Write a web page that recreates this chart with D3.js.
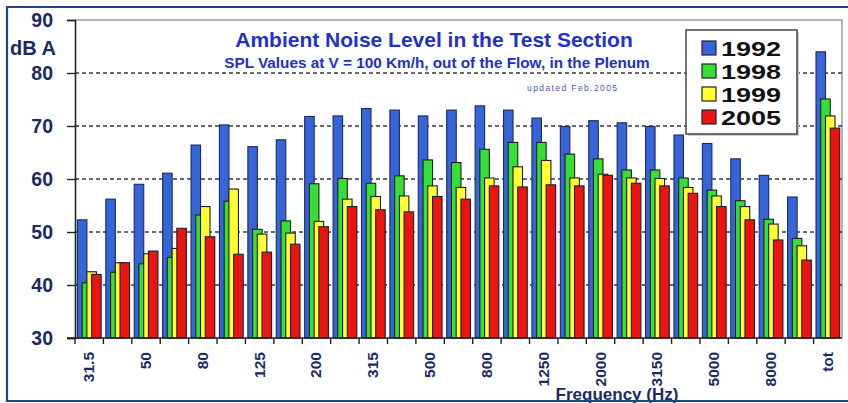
<!DOCTYPE html>
<html>
<head>
<meta charset="utf-8">
<script src="https://cdn.jsdelivr.net/npm/d3@7"></script>
<style>
  html, body { margin: 0; padding: 0; background: #ffffff; }
  svg { display: block; font-family: Arial, "Liberation Sans", sans-serif; }
</style>
</head>
<body>
<svg id="chart" width="848" height="403"></svg>
<script>
// Third-octave band centre frequencies (Hz) plus the overall level
const bands = ["31.5","40","50","63","80","100","125","160","200","250","315","400","500","630","800","1000","1250","1600","2000","2500","3150","4000","5000","6300","8000","10000","tot"];
const shownLabels = ["31.5","50","80","125","200","315","500","800","1250","2000","3150","5000","8000","tot"];
const years = ["1992","1998","1999","2005"];
const colors = ["#3565d8","#35e035","#ffff33","#ee1313"];
const yTicks = [30,40,50,60,70,80,90];

// SPL in dB(A) per band, one array per measurement campaign
const spl1992 = [52.3,56.2,59.0,61.1,66.4,70.2,66.1,67.4,71.8,71.9,73.3,73.0,71.9,73.0,73.8,73.0,71.5,69.9,71.0,70.6,69.9,68.3,66.7,63.8,60.7,56.6,84.0];
const spl1998 = [40.4,42.4,44.0,45.2,53.2,55.8,50.5,52.1,59.1,60.1,59.2,60.6,63.6,63.1,65.6,66.9,66.9,64.7,63.8,61.7,61.7,60.2,57.9,55.9,52.4,48.8,75.1];
const spl1999 = [42.5,44.2,45.9,46.9,54.8,58.1,49.6,49.8,52.0,56.2,56.7,56.8,58.7,58.4,60.2,62.3,63.5,60.2,60.9,60.2,60.1,58.4,56.8,54.8,51.5,47.4,71.9];
const spl2005 = [42.0,44.2,46.4,50.7,49.1,45.8,46.2,47.7,51.0,54.8,54.2,53.8,56.7,56.2,58.7,58.5,58.9,58.7,60.7,59.2,58.7,57.3,54.8,52.3,48.5,44.7,69.6];
const seriesValues = [spl1992, spl1998, spl1999, spl2005];

const svg = d3.select("#chart");
const navy = "#1b2a66";
const plot = { left: 75, right: 842, top: 20, bottom: 338 };

const x = d3.scaleBand().domain(bands).range([plot.left, plot.right]).paddingInner(0).paddingOuter(0);
const y = d3.scaleLinear().domain([30, 90]).range([plot.bottom, plot.top]);

// Overlapping bars inside each band: each series shifted a little to the right
const bw = x.bandwidth();
const barW = bw * 0.335;
const xs = d3.scalePoint().domain(years).range([bw * 0.085, bw * 0.085 + bw * 0.5]);

// Plot frame (grey top and right edges)
svg.append("path")
  .attr("d", `M${plot.left},${plot.top}H${plot.right}V${plot.bottom}`)
  .attr("fill", "none").attr("stroke", "#9a9a9a").attr("stroke-width", 1.5);

// Dashed horizontal grid lines
svg.append("g").selectAll("line")
  .data(yTicks.filter(t => t > 30 && t < 90))
  .join("line")
  .attr("x1", plot.left).attr("x2", plot.right)
  .attr("y1", d => y(d)).attr("y2", d => y(d))
  .attr("stroke", "#3a3a3a").attr("stroke-width", 1.4)
  .attr("stroke-dasharray", "4,3");

// Titles
svg.append("text").attr("x", 434).attr("y", 47).attr("text-anchor", "middle")
  .attr("font-size", 21).attr("font-weight", "bold").attr("fill", "#2430c8")
  .text("Ambient Noise Level in the Test Section");
svg.append("text").attr("x", 437).attr("y", 68).attr("text-anchor", "middle")
  .attr("font-size", 15.3).attr("font-weight", "bold").attr("fill", "#2430c8")
  .text("SPL Values at V = 100 Km/h, out of the Flow, in the Plenum");
svg.append("text").attr("x", 527).attr("y", 91)
  .attr("font-size", 8.5).attr("fill", "#4a58b0")
  .attr("textLength", 90).attr("lengthAdjust", "spacing")
  .text("updated Feb.2005");

// Bars
years.forEach((yr, si) => {
  svg.append("g").selectAll("rect")
    .data(seriesValues[si].map((v, i) => ({ band: bands[i], v })))
    .join("rect")
    .attr("x", d => x(d.band) + xs(yr))
    .attr("y", d => y(d.v))
    .attr("width", barW)
    .attr("height", d => y(30) - y(d.v))
    .attr("fill", colors[si])
    .attr("stroke", si === 0 ? "#1c2a60" : "#1e1e1e")
    .attr("stroke-width", 1.1);
});

// Y axis
const yAxis = svg.append("g").attr("transform", `translate(${plot.left},0)`)
  .call(d3.axisLeft(y).tickValues(yTicks).tickSize(8).tickPadding(14).tickFormat(d3.format("d")));
yAxis.select(".domain").attr("stroke", "#222").attr("stroke-width", 1.6);
yAxis.selectAll(".tick line").attr("stroke", "#222").attr("stroke-width", 1.4);
yAxis.selectAll(".tick text").attr("font-size", 19.5).attr("font-weight", "bold")
  .attr("fill", navy).attr("font-family", "Arial, 'Liberation Sans', sans-serif");

svg.append("text").attr("x", 10).attr("y", 55)
  .attr("font-size", 20).attr("font-weight", "bold").attr("fill", navy)
  .text("dB A");

// X axis: ticks at band boundaries, labels on every other band
const xAxisG = svg.append("g").attr("transform", `translate(0,${plot.bottom})`);
xAxisG.append("line").attr("x1", 67).attr("x2", plot.right)
  .attr("stroke", "#222").attr("stroke-width", 1.6);
xAxisG.selectAll("line.tk").data(bands).join("line").attr("class", "tk")
  .attr("x1", d => x(d)).attr("x2", d => x(d))
  .attr("y1", 0).attr("y2", 6)
  .attr("stroke", "#222").attr("stroke-width", 1.4);
xAxisG.selectAll("text").data(shownLabels).join("text")
  .attr("transform", d => `translate(${x(d) + bw / 2 + 5},14) rotate(-90)`)
  .attr("text-anchor", "end")
  .attr("font-size", 15.5).attr("font-weight", "bold").attr("fill", navy)
  .text(d => d);

svg.append("text").attr("x", 617).attr("y", 400).attr("text-anchor", "middle")
  .attr("font-size", 17).attr("font-weight", "bold").attr("fill", navy)
  .text("Frequency (Hz)");

// Legend
const lg = svg.append("g").attr("transform", "translate(686,30)");
lg.append("rect").attr("x", 2).attr("y", 2).attr("width", 111).attr("height", 104).attr("fill", "#cfcfcf");
lg.append("rect").attr("width", 111).attr("height", 104)
  .attr("fill", "#ffffff").attr("stroke", "#444").attr("stroke-width", 1.5);
const rows = lg.selectAll("g.row").data(years).join("g").attr("class", "row")
  .attr("transform", (d, i) => `translate(0,${18 + i * 23})`);
rows.append("rect").attr("x", 16).attr("y", -7).attr("width", 14).attr("height", 14)
  .attr("fill", (d, i) => colors[i]).attr("stroke", "#222").attr("stroke-width", 1.2);
rows.append("text").attr("x", 35).attr("y", 8)
  .attr("font-size", 20).attr("font-weight", "bold").attr("fill", "#111")
  .attr("textLength", 60).attr("lengthAdjust", "spacingAndGlyphs")
  .text(d => d);

// Outer frame
svg.append("path").attr("d", "M850,7H7V401H850")
  .attr("fill", "none").attr("stroke", "#1d4785").attr("stroke-width", 2.2);
</script>
</body>
</html>
